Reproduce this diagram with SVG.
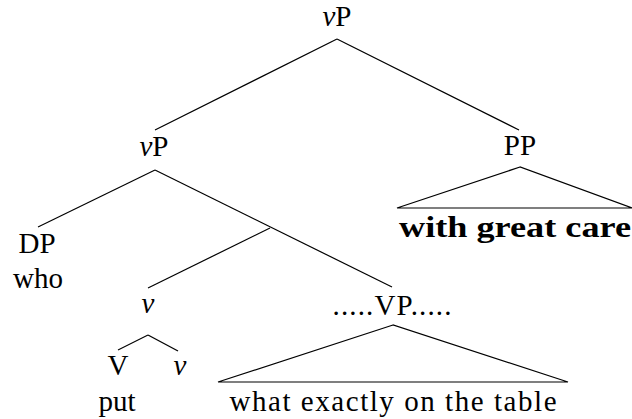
<svg xmlns="http://www.w3.org/2000/svg" width="632" height="419" viewBox="0 0 632 419">
<style>
text{font-family:'Liberation Serif','DejaVu Serif',serif;font-size:29px;fill:#000;text-anchor:middle}
.it{font-style:italic}
.b{font-weight:bold}
line,polygon{stroke:#000;stroke-width:1.2;fill:none}
</style>
<rect width="632" height="419" fill="#fff"/>
<g id="connectors">
<line x1="337" y1="39" x2="155" y2="130"/>
<line x1="337" y1="39" x2="519" y2="130"/>
<line x1="155" y1="170" x2="38" y2="227"/>
<line x1="155" y1="170" x2="392" y2="287"/>
<line x1="270" y1="228" x2="148" y2="288"/>
<line x1="148" y1="335" x2="118" y2="350"/>
<line x1="148" y1="335" x2="178" y2="351"/>
<polygon points="520,167 397,208 632,208"/>
<polygon points="393,325 218,382 568,382"/>
</g>
<g id="vP-top"><text x="337" y="26"><tspan class="it">v</tspan>P</text></g>
<g id="vP-mid"><text x="154" y="156"><tspan class="it">v</tspan>P</text></g>
<g id="PP"><text x="520" y="155">PP</text><text class="b" x="515" y="237" textLength="232" lengthAdjust="spacingAndGlyphs">with great care</text></g>
<g id="DP"><text x="37" y="253">DP</text><text x="38" y="288">who</text></g>
<g id="v-head"><text class="it" x="148" y="313">v</text></g>
<g id="VP"><text x="392" y="315" textLength="119" lengthAdjust="spacing">.....VP.....</text><text x="393" y="411" textLength="327" lengthAdjust="spacing">what exactly on the table</text></g>
<g id="V"><text x="118" y="375">V</text><text x="117" y="411">put</text></g>
<g id="v-low"><text class="it" x="180" y="375">v</text></g>
</svg>
